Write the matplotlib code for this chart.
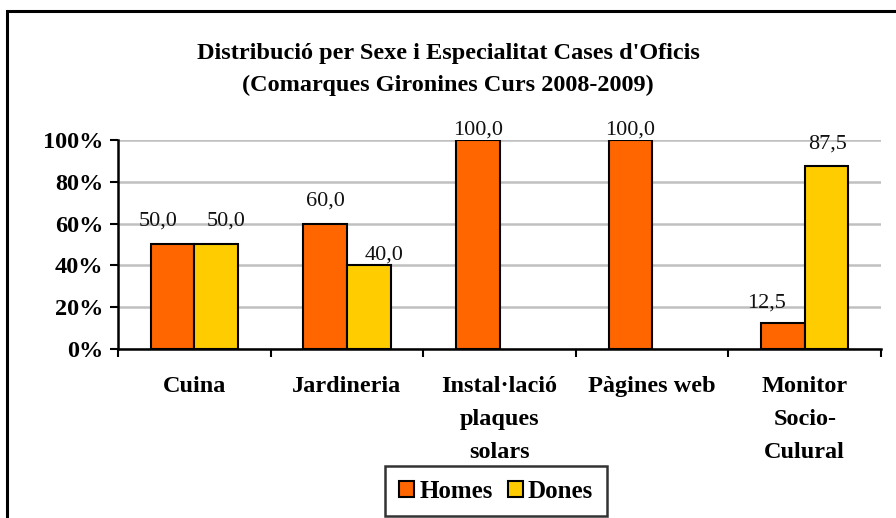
import matplotlib.pyplot as plt
import numpy as np
from matplotlib.patches import Rectangle

# dades
categories = ['Cuina', 'Jardineria', 'Instal·lació\nplaques\nsolars', 'Pàgines web', 'Monitor\nSocio-\nCulural']
homes = [50.0, 60.0, 100.0, 100.0, 12.5]
dones = [50.0, 40.0, 0.0, 0.0, 87.5]
yticks = [0, 20, 40, 60, 80, 100]

# desplacament (px) de les etiquetes, tal com estan col.locades a l'original
homes_off = [(-14, 23), (0, 23), (0, 10), (0, 10), (-16, 20)]
dones_off = [(10, 23), (15, 10), (0, 0), (0, 0), (1, 22)]

orange = '#FF6600'
yellow = '#FFCC00'
font = 'Liberation Serif'

plt.rcParams['font.family'] = [font, 'DejaVu Serif']

fig = plt.figure(figsize=(8.96, 5.18), dpi=100)
ax = fig.add_axes([118/896, 1-349/518, (881-118)/896, (349-140)/518])

# marc exterior del grafic
fig.patches.append(Rectangle((7/896, -0.1), 1.0, 1-10.5/518+0.1, transform=fig.transFigure,
                             fill=False, edgecolor='black', linewidth=2.2, clip_on=False))

x = np.arange(len(categories))
w = 1/3.5

b1 = ax.bar(x - w/2, homes, w, color=orange, edgecolor='black', linewidth=1.5, label='Homes', zorder=3)
b2 = ax.bar(x + w/2, dones, w, color=yellow, edgecolor='black', linewidth=1.5, label='Dones', zorder=3)

for bars, vals, offs in ((b1, homes, homes_off), (b2, dones, dones_off)):
    for rect, v, (dx, dy) in zip(bars, vals, offs):
        if v == 0:
            rect.set_visible(False)
            continue
        ax.annotate(f'{v:.1f}'.replace('.', ','), (rect.get_x() + rect.get_width()/2, v),
                    xytext=(dx, dy), textcoords='offset pixels', ha='center', va='center',
                    fontsize=16, color='#111111')

ax.set_xlim(-0.5, len(categories) - 0.5)
ax.set_ylim(0, 100)
ax.set_yticks(yticks)
ax.set_yticklabels([f'{t}%' for t in yticks], fontsize=17.5, fontweight='bold')
ax.yaxis.grid(True, color='#C0C0C0', linewidth=1.8, zorder=0)
ax.set_axisbelow(True)

ax.set_xticks(np.arange(len(categories) + 1) - 0.5)
ax.set_xticklabels([])
ax.tick_params(axis='x', direction='out', length=6, width=1.5, color='black')
ax.tick_params(axis='y', direction='out', length=6, width=1.5, pad=4.5)
for i, c in enumerate(categories):
    ax.text(i, -13, c, ha='center', va='top', fontsize=17.5, fontweight='bold',
            linespacing=1.75, transform=ax.transData)

for s in ('top', 'right'):
    ax.spines[s].set_visible(False)
for s in ('left', 'bottom'):
    ax.spines[s].set_linewidth(1.8)

fig.text(0.5, 1-54/518, "Distribució per Sexe i Especialitat Cases d'Oficis", ha='center', va='center',
         fontsize=17.5, fontweight='bold')
fig.text(0.5, 1-85/518, "(Comarques Gironines Curs 2008-2009)", ha='center', va='center',
         fontsize=17.5, fontweight='bold')

leg = fig.legend(handles=[b1, b2], loc='center', bbox_to_anchor=(496/896, 1-491/518), ncol=2,
                 frameon=True, fancybox=False, edgecolor='black', handlelength=0.6, handleheight=0.6,
                 handletextpad=0.2, columnspacing=0.6, borderpad=0.55, borderaxespad=0,
                 prop={'family': font, 'weight': 'bold', 'size': 18})
leg.get_frame().set_linewidth(1.8)

fig.savefig('out.png', dpi=100)
